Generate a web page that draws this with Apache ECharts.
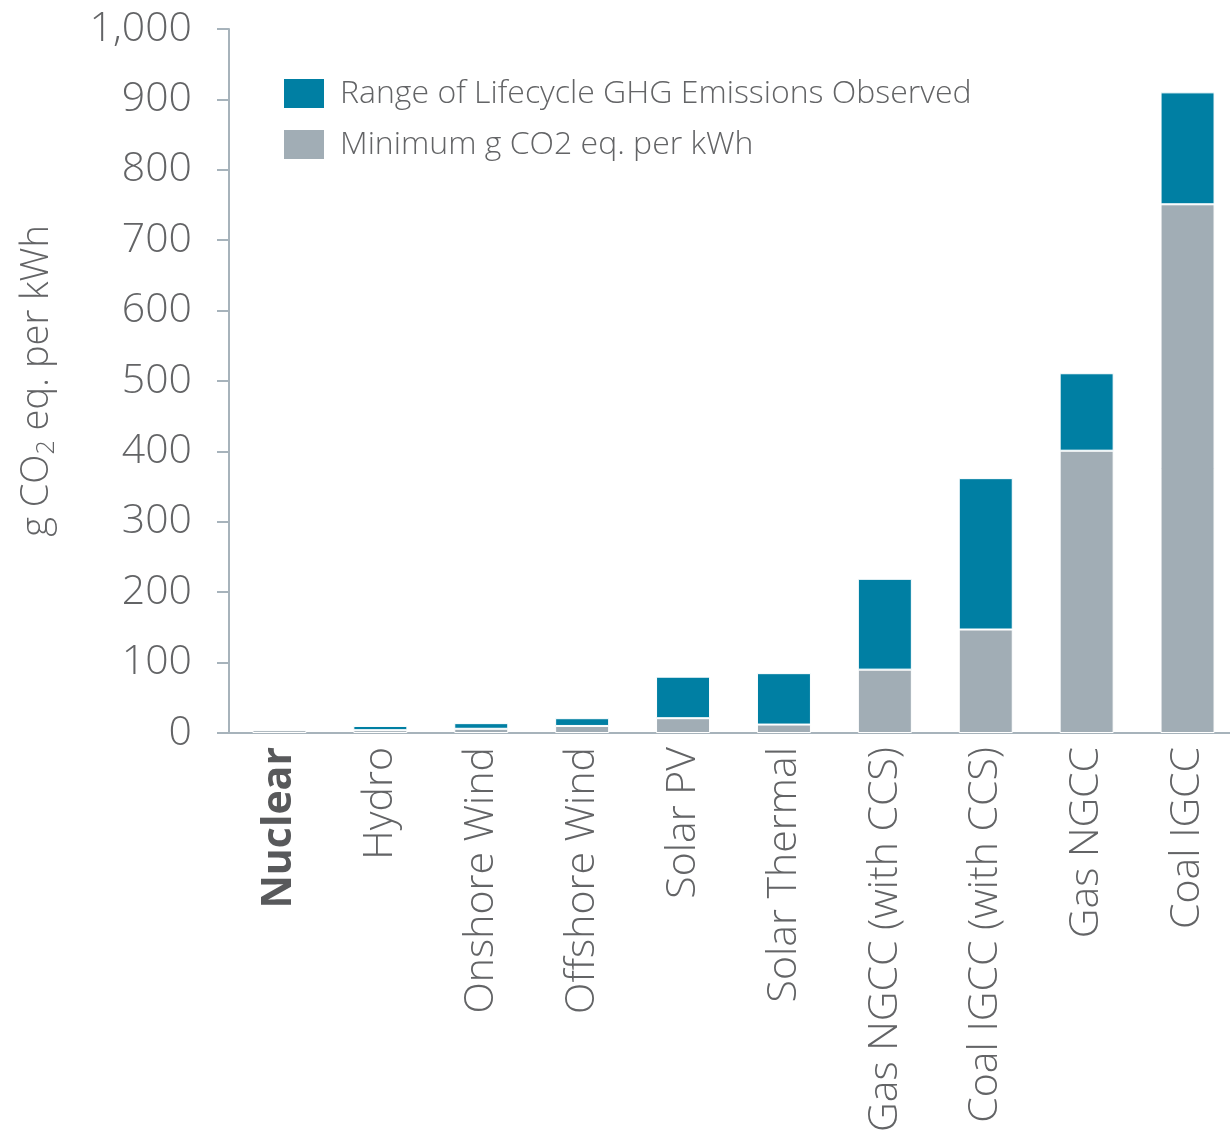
<!DOCTYPE html>
<html>
<head>
<meta charset="utf-8">
<script src="https://cdn.jsdelivr.net/npm/echarts@6/dist/echarts.min.js"></script>
<style>
  html, body { margin: 0; padding: 0; background: #fff; }
  #wrap { width: 1230px; height: 1131px; overflow: hidden; position: relative; }
  #chart { width: 1240px; height: 1131px; position: absolute; left: 0; top: 0; }
</style>
</head>
<body>
<div id="wrap"><div id="chart"></div></div>
<script>
// 数据
const categories = ['Nuclear', 'Hydro', 'Onshore Wind', 'Offshore Wind', 'Solar PV',
    'Solar Thermal', 'Gas NGCC (with CCS)', 'Coal IGCC (with CCS)', 'Gas NGCC', 'Coal IGCC'];
const minValues = [4, 4, 6, 10, 21, 12, 90, 147, 401, 751];
const maxValues = [4, 10, 14, 21, 80, 85, 219, 362, 511, 910];
const yTicks = [0, 100, 200, 300, 400, 500, 600, 700, 800, 900, 1000];

// 范围 = 最大值 - 最小值（为0时不画）
const rangeValues = maxValues.map((v, i) => (v - minValues[i]) || null);

const textColor = '#636466';
const axisColor = '#a7b3bb';
const font = 'Open Sans';

const chart = echarts.init(document.getElementById('chart'));

const option = {
    backgroundColor: '#fff',
    animation: false,
    grid: {
        left: 229,
        top: 29,
        bottom: 398,
        right: 2,
        containLabel: false,
        outerBoundsMode: 'none'
    },
    legend: {
        orient: 'vertical',
        left: 277,
        top: 72,
        icon: 'rect',
        itemWidth: 42,
        itemHeight: 31,
        itemGap: 18,
        data: ['Range of Lifecycle GHG Emissions Observed', 'Minimum g CO2 eq. per kWh'],
        textStyle: {
            color: textColor,
            fontSize: 32,
            lineHeight: 33,
            fontFamily: font,
            fontWeight: 300,
            padding: [0, 0, 0, 10]
        }
    },
    xAxis: {
        type: 'category',
        data: categories.map((c, i) => i === 0
            ? { value: c, textStyle: { fontWeight: 'bold', color: '#58595b' } }
            : c),
        axisLine: { lineStyle: { color: axisColor, width: 2 } },
        axisTick: { show: false },
        axisLabel: {
            rotate: 90,
            interval: 0,
            margin: 14,
            color: textColor,
            fontSize: 41,
            fontFamily: font,
            fontWeight: 300
        }
    },
    yAxis: {
        type: 'value',
        min: 0,
        max: yTicks[yTicks.length - 1],
        interval: 100,
        name: '{a|g CO}{s|2}{a| eq. per kWh}',
        nameLocation: 'middle',
        nameRotate: 90,
        nameGap: 170,
        nameTextStyle: {
            rich: {
                a: { fontSize: 38, color: textColor, fontFamily: font, fontWeight: 300 },
                s: { fontSize: 25, color: textColor, fontFamily: font, fontWeight: 300, padding: [18, 0, 0, 0] }
            }
        },
        axisLine: { show: true, lineStyle: { color: axisColor, width: 2 } },
        axisTick: { show: true, length: 12, lineStyle: { color: axisColor, width: 2 } },
        splitLine: { show: false },
        axisLabel: {
            margin: 37,
            color: textColor,
            fontSize: 41,
            fontFamily: font,
            fontWeight: 300,
            formatter: v => v.toLocaleString('en-US')
        }
    },
    series: [
        {
            name: 'Minimum g CO2 eq. per kWh',
            type: 'bar',
            stack: 'total',
            barWidth: 54,
            data: minValues,
            itemStyle: { color: '#a1adb5', borderColor: '#fff', borderWidth: 1 }
        },
        {
            name: 'Range of Lifecycle GHG Emissions Observed',
            type: 'bar',
            stack: 'total',
            barWidth: 54,
            data: rangeValues,
            itemStyle: { color: '#007fa3', borderColor: '#fff', borderWidth: 1 }
        }
    ]
};

chart.setOption(option);
</script>
</body>
</html>
